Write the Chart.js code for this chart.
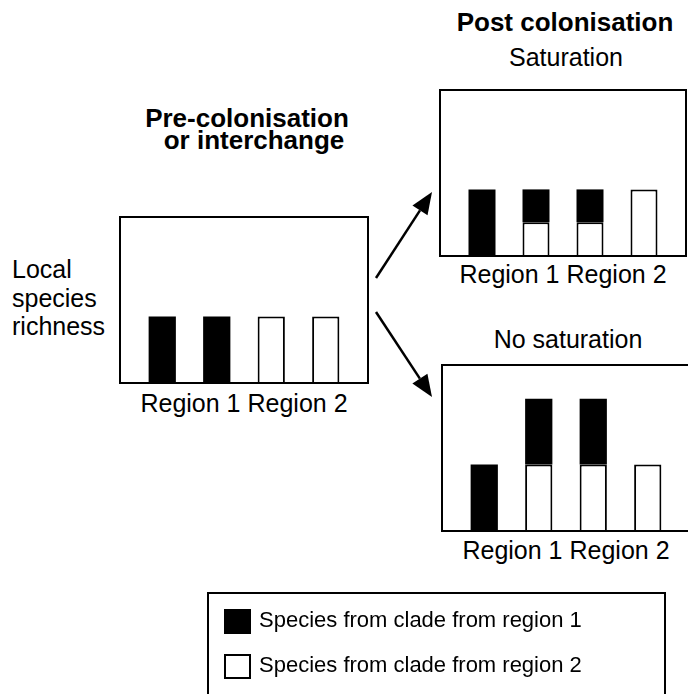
<!DOCTYPE html>
<html>
<head>
<meta charset="utf-8">
<script src="https://cdn.jsdelivr.net/npm/chart.js@4.4.1/dist/chart.umd.min.js"></script>
<style>
  html, body { margin: 0; padding: 0; background: #fff; }
  body {
    width: 688px; height: 694px; position: relative; overflow: hidden;
    font-family: "Liberation Sans", Arial, Helvetica, sans-serif; color: #000;
  }
  .txt { position: absolute; white-space: nowrap; line-height: 1; }
  .center { text-align: center; }
  .bold { font-weight: bold; }
  .frame { position: absolute; border: 2px solid #000; box-sizing: border-box; background: #fff; }
  .frame canvas { display: block; }
  .legend { position: absolute; left: 207px; top: 592px; width: 459px; height: 120px; border: 2px solid #000; box-sizing: border-box; }
  .legend-item { position: absolute; left: 15px; height: 25px; }
  .swatch { position: absolute; left: 0; top: 0; width: 27px; height: 25px; box-sizing: border-box; border: 2px solid #000; }
  .legend-item span { position: absolute; left: 35px; top: 0; font-size: 22px; line-height: 1; white-space: nowrap; }
  svg { position: absolute; left: 0; top: 0; }
</style>
</head>
<body>

<div class="txt bold center" style="left:447px; top:9px; width:236px; font-size:26px;">Post colonisation</div>
<div class="txt center" style="left:466px; top:45px; width:200px; font-size:25px;">Saturation</div>
<div class="txt center" style="left:468px; top:327px; width:200px; font-size:25px;">No saturation</div>

<div class="txt bold center" style="left:127px; top:105px; width:240px; font-size:26px;">Pre-colonisation</div>
<div class="txt bold center" style="left:134px; top:127px; width:240px; font-size:26px;">or interchange</div>

<div class="txt" style="left:12px; top:255px; font-size:25px; line-height:28.5px;">Local<br>species<br>richness</div>

<div class="frame" style="left:119px; top:216px; width:250px; height:168px;"><canvas id="chart-pre" width="246" height="164"></canvas></div>
<div class="frame" style="left:439px; top:89px; width:248px; height:168px;"><canvas id="chart-sat" width="244" height="164"></canvas></div>
<div class="frame" style="left:441px; top:364px; width:250px; height:168px;"><canvas id="chart-nosat" width="246" height="164"></canvas></div>

<div class="txt center" id="label-pre" style="left:94px; top:391px; width:300px; font-size:25px;"></div>
<div class="txt center" id="label-sat" style="left:413px; top:262px; width:300px; font-size:25px;"></div>
<div class="txt center" id="label-nosat" style="left:416px; top:538px; width:300px; font-size:25px;"></div>

<svg width="688" height="694" id="arrows"></svg>

<div class="legend" id="legend"></div>

<script>
// bar positions: two in each region
const CATEGORIES = ['Region 1', 'Region 1', 'Region 2', 'Region 2'];
const REGION_LABEL = 'Region 1 Region 2';
const SERIES_NAMES = ['Species from clade from region 1', 'Species from clade from region 2'];
const SERIES_COLORS = ['#000000', '#ffffff'];

// local species richness per bar
const PRE_CLADE1 = [2, 2, 0, 0];
const PRE_CLADE2 = [0, 0, 2, 2];
const SAT_CLADE1 = [2, 1, 1, 0];
const SAT_CLADE2 = [0, 1, 1, 2];
const NOSAT_CLADE1 = [2, 2, 2, 0];
const NOSAT_CLADE2 = [0, 2, 2, 2];
const Y_MAX = 5;

Chart.defaults.animation = false;

function makeChart(id, clade1, clade2) {
  const ctx = document.getElementById(id);
  return new Chart(ctx, {
    type: 'bar',
    data: {
      labels: CATEGORIES,
      datasets: [
        // clade 2 sits at the bottom of the stack, clade 1 on top
        {
          label: SERIES_NAMES[1],
          data: clade2,
          backgroundColor: SERIES_COLORS[1],
          borderColor: '#000',
          borderWidth: 2,
        },
        {
          label: SERIES_NAMES[0],
          data: clade1,
          backgroundColor: SERIES_COLORS[0],
          borderColor: '#000',
          borderWidth: 0,
        },
      ],
    },
    options: {
      responsive: false,
      maintainAspectRatio: false,
      layout: { padding: { left: 14, right: 14, top: 0, bottom: 0 } },
      datasets: { bar: { barPercentage: 0.5, categoryPercentage: 1 } },
      plugins: { legend: { display: false }, tooltip: { enabled: false } },
      scales: {
        x: { stacked: true, display: false },
        y: { stacked: true, display: false, min: 0, max: Y_MAX },
      },
    },
  });
}

makeChart('chart-pre', PRE_CLADE1, PRE_CLADE2);
makeChart('chart-sat', SAT_CLADE1, SAT_CLADE2);
makeChart('chart-nosat', NOSAT_CLADE1, NOSAT_CLADE2);

['label-pre', 'label-sat', 'label-nosat'].forEach((id) => {
  document.getElementById(id).textContent = REGION_LABEL;
});

// legend
const legendEl = document.getElementById('legend');
SERIES_NAMES.forEach((name, i) => {
  const item = document.createElement('div');
  item.className = 'legend-item';
  item.style.top = (15 + i * 45) + 'px';
  item.innerHTML = `<div class="swatch" style="background:${SERIES_COLORS[i]}"></div><span>${name}</span>`;
  legendEl.appendChild(item);
});

// arrows between panels
function arrow(x1, y1, x2, y2) {
  const dx = x2 - x1, dy = y2 - y1;
  const len = Math.hypot(dx, dy);
  const ux = dx / len, uy = dy / len;
  const headLen = 22, headHalf = 9;
  const bx = x2 - ux * headLen, by = y2 - uy * headLen;
  const p1 = `${bx - uy * headHalf},${by + ux * headHalf}`;
  const p2 = `${bx + uy * headHalf},${by - ux * headHalf}`;
  return `<line x1="${x1}" y1="${y1}" x2="${bx}" y2="${by}" stroke="#000" stroke-width="2.5"/>` +
    `<polygon points="${x2},${y2} ${p1} ${p2}" fill="#000"/>`;
}
document.getElementById('arrows').innerHTML =
  arrow(376, 278, 432, 192) + arrow(376, 312, 432, 397);
</script>
</body>
</html>
